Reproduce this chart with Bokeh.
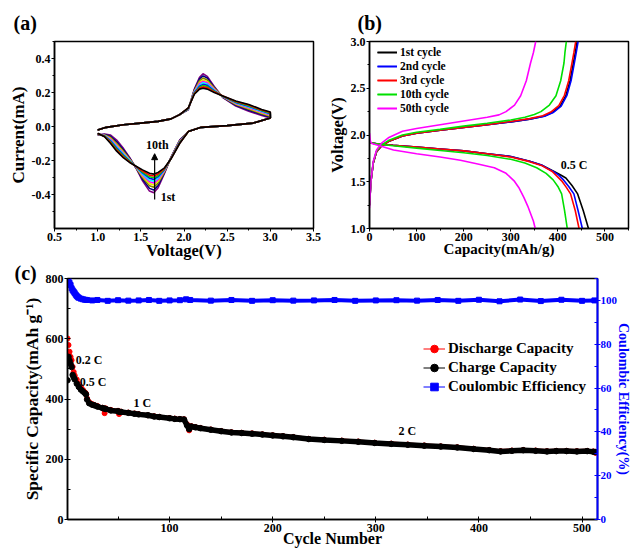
from bokeh.plotting import figure
from bokeh.layouts import column, row
from bokeh.models import (Range1d, LinearAxis, SingleIntervalTicker, PrintfTickFormatter,
                          Label, Arrow, NormalHead, Legend, LegendItem)
from bokeh.embed import file_html
from bokeh.resources import INLINE

FONT = "Liberation Serif"

# ---------------- (a) CV data ----------------
cv_fwd_common_v = [1.0, 1.1, 1.3, 1.5, 1.7, 1.85, 1.95]
cv_fwd_common_i = [-0.02, -0.005, 0.01, 0.02, 0.03, 0.045, 0.07]
cv_fwd_v = [2.05, 2.12, 2.18, 2.22, 2.27, 2.35, 2.45, 2.6, 2.75, 2.9, 3.0]
cv_rev_common_v = [3.0, 2.8, 2.5, 2.2, 2.05]
cv_rev_common_i = [0.05, 0.02, 0.005, -0.005, -0.03]
cv_rev_v = [1.95, 1.85, 1.77, 1.7, 1.65, 1.6, 1.52, 1.45, 1.38, 1.3, 1.22, 1.15, 1.08, 1.0]
cv_colors = ["#800080", "#000080", "#808000", "#E8E800", "#FF00FF",
             "#00FFFF", "#0000FF", "#00E000", "#FF0000", "#000000"]
cv_fwd_i = [
    [0.10, 0.22, 0.29, 0.31, 0.295, 0.235, 0.17, 0.12, 0.09, 0.065, 0.05],
    [0.10, 0.215, 0.28, 0.298, 0.285, 0.23, 0.172, 0.125, 0.096, 0.07, 0.055],
    [0.103, 0.21, 0.27, 0.285, 0.273, 0.226, 0.173, 0.129, 0.102, 0.075, 0.06],
    [0.104, 0.207, 0.26, 0.274, 0.264, 0.222, 0.174, 0.133, 0.107, 0.08, 0.065],
    [0.105, 0.204, 0.253, 0.265, 0.257, 0.218, 0.175, 0.136, 0.111, 0.084, 0.068],
    [0.106, 0.201, 0.245, 0.257, 0.25, 0.214, 0.176, 0.139, 0.115, 0.088, 0.072],
    [0.107, 0.198, 0.237, 0.248, 0.242, 0.21, 0.177, 0.142, 0.119, 0.092, 0.075],
    [0.108, 0.196, 0.231, 0.241, 0.235, 0.207, 0.178, 0.144, 0.122, 0.094, 0.078],
    [0.109, 0.193, 0.226, 0.233, 0.228, 0.204, 0.179, 0.147, 0.126, 0.097, 0.082],
    [0.11, 0.19, 0.22, 0.225, 0.22, 0.20, 0.18, 0.15, 0.13, 0.10, 0.085],
]
cv_rev_i = [
    [-0.08, -0.18, -0.28, -0.36, -0.39, -0.38, -0.32, -0.25, -0.19, -0.13, -0.08, -0.05, -0.045, -0.05],
    [-0.083, -0.182, -0.275, -0.347, -0.374, -0.364, -0.310, -0.248, -0.194, -0.138, -0.090, -0.058, -0.047, -0.049],
    [-0.086, -0.183, -0.270, -0.333, -0.357, -0.349, -0.300, -0.246, -0.198, -0.147, -0.100, -0.065, -0.050, -0.047],
    [-0.088, -0.184, -0.265, -0.322, -0.344, -0.336, -0.293, -0.244, -0.200, -0.153, -0.107, -0.071, -0.051, -0.046],
    [-0.090, -0.185, -0.262, -0.313, -0.333, -0.325, -0.286, -0.242, -0.203, -0.159, -0.114, -0.076, -0.053, -0.045],
    [-0.092, -0.186, -0.258, -0.304, -0.322, -0.315, -0.280, -0.241, -0.205, -0.164, -0.120, -0.081, -0.054, -0.044],
    [-0.094, -0.187, -0.255, -0.295, -0.311, -0.304, -0.273, -0.239, -0.208, -0.170, -0.127, -0.086, -0.056, -0.043],
    [-0.096, -0.188, -0.252, -0.288, -0.302, -0.296, -0.268, -0.238, -0.210, -0.174, -0.132, -0.090, -0.057, -0.042],
    [-0.098, -0.189, -0.249, -0.279, -0.291, -0.286, -0.262, -0.237, -0.213, -0.180, -0.139, -0.095, -0.059, -0.041],
    [-0.10, -0.19, -0.245, -0.27, -0.28, -0.275, -0.255, -0.235, -0.215, -0.185, -0.145, -0.10, -0.06, -0.04],
]

# ---------------- (b) charge/discharge data ----------------
b_names = ["1st cycle", "2nd cycle", "3rd cycle", "10th cycle", "50th cycle"]
b_colors = ["#000000", "#0000FF", "#FF0000", "#00E000", "#FF00FF"]
b_chg_cap = [
    [0, 3, 8, 15, 25, 40, 70, 100, 150, 200, 250, 300, 340, 370, 388, 405, 417, 426, 433, 437, 441],
    [0, 3, 8, 15, 25, 40, 70, 100, 150, 200, 250, 300, 340, 372, 390, 407, 419, 428, 435, 439, 443],
    [0, 3, 8, 15, 25, 40, 70, 100, 150, 200, 250, 300, 340, 368, 385, 402, 414, 423, 430, 434, 438],
    [0, 3, 8, 15, 25, 40, 70, 100, 150, 200, 250, 300, 330, 350, 364, 382, 396, 406, 413, 415, 418],
    [0, 3, 8, 15, 25, 40, 70, 100, 150, 200, 250, 275, 290, 308, 321, 333, 342, 348, 353],
]
b_chg_v = [
    [1.25, 1.5, 1.7, 1.82, 1.88, 1.93, 1.99, 2.02, 2.05, 2.08, 2.11, 2.14, 2.17, 2.2, 2.24, 2.31, 2.42, 2.58, 2.77, 2.88, 3.0],
    [1.25, 1.5, 1.7, 1.82, 1.88, 1.93, 1.99, 2.02, 2.05, 2.08, 2.11, 2.14, 2.17, 2.2, 2.24, 2.31, 2.42, 2.58, 2.77, 2.88, 3.0],
    [1.25, 1.5, 1.7, 1.82, 1.88, 1.93, 1.99, 2.02, 2.05, 2.08, 2.11, 2.145, 2.175, 2.205, 2.245, 2.315, 2.425, 2.58, 2.77, 2.88, 3.0],
    [1.25, 1.5, 1.71, 1.83, 1.89, 1.94, 2.0, 2.03, 2.06, 2.095, 2.125, 2.16, 2.19, 2.22, 2.25, 2.32, 2.42, 2.58, 2.77, 2.88, 3.0],
    [1.22, 1.5, 1.72, 1.84, 1.91, 1.97, 2.04, 2.07, 2.11, 2.15, 2.19, 2.215, 2.25, 2.32, 2.42, 2.58, 2.77, 2.88, 3.0],
]
b_dis_cap = [
    [0, 15, 50, 100, 150, 200, 250, 300, 340, 365, 392, 405, 417, 430, 442, 454, 465],
    [0, 15, 50, 100, 150, 200, 250, 300, 340, 365, 390, 402, 412, 423, 434, 443, 452],
    [0, 15, 50, 100, 150, 200, 250, 300, 340, 365, 388, 398, 408, 418, 427, 437, 445],
    [0, 15, 50, 100, 150, 200, 250, 300, 330, 355, 375, 390, 400, 408, 414, 420],
    [0, 2, 5, 25, 51, 100, 150, 193, 230, 265, 290, 307, 318, 328, 336, 342, 348, 352],
]
b_dis_v = [
    [1.92, 1.905, 1.89, 1.87, 1.85, 1.83, 1.80, 1.77, 1.72, 1.68, 1.61, 1.575, 1.54, 1.46, 1.37, 1.19, 1.0],
    [1.92, 1.905, 1.89, 1.87, 1.85, 1.83, 1.80, 1.77, 1.72, 1.68, 1.61, 1.57, 1.52, 1.45, 1.37, 1.19, 1.0],
    [1.92, 1.905, 1.89, 1.87, 1.85, 1.83, 1.80, 1.765, 1.715, 1.675, 1.61, 1.56, 1.51, 1.44, 1.37, 1.19, 1.0],
    [1.92, 1.905, 1.885, 1.86, 1.835, 1.81, 1.78, 1.74, 1.70, 1.65, 1.59, 1.52, 1.45, 1.37, 1.2, 1.0],
    [2.02, 1.93, 1.91, 1.88, 1.84, 1.80, 1.765, 1.73, 1.69, 1.65, 1.59, 1.51, 1.43, 1.33, 1.24, 1.16, 1.08, 1.0],
]

# ---------------- (c) cycling data ----------------
cyc = [1, 2, 3, 4, 5, 6, 7, 8,
       10, 12, 14, 16, 18, 19, 20, 22, 25, 27,
       30, 35, 37, 38, 43, 50, 51, 53, 60, 66,
       70, 79, 85, 90, 100, 105, 110, 114, 117, 119,
       121, 125, 130, 140, 150, 160, 170, 180, 190, 200,
       210, 220, 235, 250, 267, 283, 299, 315, 331, 347,
       363, 379, 395, 410, 421, 432, 443, 455, 466, 475,
       485, 495, 505, 511, 513]
discharge = [601, 579, 557, 540, 529, 507, 490, 478,
             465, 450, 440, 430, 422, 418, 402, 390, 383, 380,
             377, 371, 353, 369, 364, 361, 350, 358, 355, 352,
             350, 346, 343, 341, 337, 335, 334, 333, 316, 296,
             310, 307, 304, 299, 294, 290, 288, 286, 283, 280,
             277, 274, 268, 265, 262, 259, 255, 252, 249, 246,
             243, 240, 235, 231, 227, 229, 231, 229, 227, 228,
             228, 227, 228, 226, 221]
charge = [462, 540, 527, 516, 506, 480, 472, 465,
          451, 440, 431, 425, 419, 415, 398, 386, 381, 379,
          375, 370, 368, 367, 362, 359, 358, 357, 354, 351,
          349, 346, 342, 340, 336, 334, 333, 332, 312, 300,
          309, 306, 303, 298, 293, 289, 287, 285, 282, 279,
          276, 273, 267, 264, 261, 258, 254, 251, 248, 245,
          242, 239, 234, 230, 226, 228, 230, 228, 226, 227,
          227, 226, 227, 225, 224]
dense_from = 15   # index in cyc from which the markers merge into a band (cycle 20)
ce_cycle = [2, 3, 4, 5, 6, 7, 8, 9, 10, 11,
            12, 14, 16, 18, 20, 25, 30, 40, 50, 60,
            70, 80, 90, 100, 110, 116, 120, 140, 160, 180,
            200, 220, 240, 260, 280, 300, 320, 340, 360, 380,
            400, 420, 440, 460, 480, 500, 512]
ce_value = [109, 108, 107, 105.5, 104.6, 104, 103.3, 102.6, 102, 101.5,
            101.2, 100.8, 100.5, 100.3, 100.2, 100, 100.2, 99.8, 100.1, 99.9,
            100, 100.2, 99.8, 100, 100.1, 100.5, 100.2, 99.9, 100.2, 99.8,
            100.1, 99.9, 100, 100.2, 99.8, 100, 100.1, 99.9, 100.2, 99.8,
            100.3, 99.6, 100.4, 99.7, 100.3, 99.8, 100]
rate_labels = ["0.2 C", "0.5 C", "1 C", "2 C"]
rate_x = [9, 13, 65, 322]
rate_y = [531, 455, 387, 293]


def style_axis(ax, lab_size, color="black", tick_size="12px"):
    ax.axis_label_text_font = FONT
    ax.axis_label_text_font_style = "bold"
    ax.axis_label_text_font_size = lab_size
    ax.axis_label_text_color = color
    ax.major_label_text_font = FONT
    ax.major_label_text_font_style = "bold"
    ax.major_label_text_font_size = tick_size
    ax.major_label_text_color = color
    ax.axis_line_width = 1.5
    ax.axis_line_color = color
    ax.major_tick_line_color = color
    ax.minor_tick_line_color = color
    ax.major_tick_out = 3
    ax.major_tick_in = 0
    ax.minor_tick_out = 2
    ax.minor_tick_in = 0
    ax.major_label_standoff = 1
    ax.axis_label_standoff = 1


def style(p, xlabel, ylabel, xsize, ysize, xstand=-3):
    p.outline_line_color = "black"
    p.outline_line_width = 1.5
    p.xgrid.visible = False
    p.ygrid.visible = False
    p.xaxis.axis_label = xlabel
    p.yaxis.axis_label = ylabel
    for ax in p.xaxis:
        style_axis(ax, xsize)
        ax.axis_label_standoff = xstand
    for ax in p.yaxis:
        style_axis(ax, ysize)


def panel_title(p, t, offset, standoff, valign="bottom"):
    p.title.text = t
    p.title.text_font = FONT
    p.title.text_font_style = "bold"
    p.title.text_font_size = "20px"
    p.title.text_color = "black"
    p.title.align = "left"
    p.title.offset = offset
    p.title.standoff = standoff
    p.title.vertical_align = valign


def text(p, x, y, t, size="12px", align="left", baseline="middle"):
    p.add_layout(Label(x=x, y=y, text=t, text_font=FONT, text_font_style="bold",
                       text_font_size=size, text_align=align, text_baseline=baseline,
                       text_color="black"))


# ---------------- panel (a) ----------------
pa = figure(width=322, height=262, x_range=Range1d(0.5, 3.5), y_range=Range1d(-0.6, 0.5),
            output_backend="svg", toolbar_location=None,
            min_border_left=54, min_border_right=9, min_border_top=41, min_border_bottom=31)
for k in range(10):
    xs = cv_fwd_common_v + cv_fwd_v + cv_rev_common_v + cv_rev_v
    ys = cv_fwd_common_i + cv_fwd_i[k] + cv_rev_common_i + cv_rev_i[k]
    pa.line(xs, ys, line_color=cv_colors[k], line_width=1.6)
style(pa, "Voltage(V)", "Current(mA)", "16.5px", "17px")
pa.xaxis.ticker = SingleIntervalTicker(interval=0.5, num_minor_ticks=2)
pa.yaxis.ticker = SingleIntervalTicker(interval=0.2, num_minor_ticks=2)
pa.xaxis.formatter = PrintfTickFormatter(format="%.1f")
pa.yaxis.formatter = PrintfTickFormatter(format="%.1f")
pa.add_layout(Arrow(end=NormalHead(size=6, fill_color="black", line_color="black"),
                    x_start=1.66, y_start=-0.43, x_end=1.66, y_end=-0.16,
                    line_color="black", line_width=1.2))
text(pa, 1.69, -0.11, "10th", align="center")
text(pa, 1.73, -0.417, "1st")
panel_title(pa, "(a)", -41, 16)

# ---------------- panel (b) ----------------
pb = figure(width=312, height=262, x_range=Range1d(0, 550), y_range=Range1d(1.0, 3.0),
            output_backend="svg", toolbar_location=None,
            min_border_left=47, min_border_right=6, min_border_top=41, min_border_bottom=31)
b_items = []
for k in range(5):
    r1 = pb.line(b_chg_cap[k], b_chg_v[k], line_color=b_colors[k], line_width=1.6)
    r2 = pb.line(b_dis_cap[k], b_dis_v[k], line_color=b_colors[k], line_width=1.6)
    b_items.append(LegendItem(label=b_names[k], renderers=[r1, r2]))
style(pb, "Capacity(mAh/g)", "Voltage(V)", "15px", "16.5px")
pb.xaxis.ticker = SingleIntervalTicker(interval=100, num_minor_ticks=2)
pb.yaxis.ticker = SingleIntervalTicker(interval=0.5, num_minor_ticks=2)
pb.yaxis.formatter = PrintfTickFormatter(format="%.1f")
leg_b = Legend(items=b_items, location=(6, 111), padding=2, spacing=0,
               label_height=14, glyph_height=14, glyph_width=20, label_standoff=3,
               label_text_font=FONT, label_text_font_style="bold", label_text_font_size="11.5px",
               label_text_line_height=1.0,
               label_text_color="black", border_line_alpha=0, background_fill_alpha=0)
pb.add_layout(leg_b)
text(pb, 406, 1.68, "0.5 C")
panel_title(pb, "(b)", -12, 16)

# ---------------- panel (c) ----------------
pc = figure(width=634, height=288, x_range=Range1d(1, 515), y_range=Range1d(0, 800),
            output_backend="svg", toolbar_location=None,
            min_border_left=67, min_border_right=34, min_border_top=16, min_border_bottom=31)
pc.extra_y_ranges = {"ce": Range1d(0, 110)}
blue = "#0000FF"
pc.line(ce_cycle, ce_value, y_range_name="ce", line_color=blue, line_width=4)
s_ce = pc.scatter(ce_cycle, ce_value, y_range_name="ce", marker="square", size=5,
                  fill_color=blue, line_color=blue)
pc.line(cyc[dense_from:], discharge[dense_from:], line_color="#FF0000", line_width=4)
s_dis = pc.scatter(cyc, discharge, marker="circle", size=5, fill_color="#FF0000", line_color="#FF0000")
pc.line(cyc[dense_from:], charge[dense_from:], line_color="black", line_width=5.5)
s_chg = pc.scatter(cyc, charge, marker="circle", size=5.5, fill_color="black", line_color="black")
style(pc, "Cycle Number", "Specific Capacity(mAh g\u207b\u00b9)", "16px", "17.5px", xstand=-5)
pc.xaxis.ticker = SingleIntervalTicker(interval=100, num_minor_ticks=2)
pc.yaxis.ticker = SingleIntervalTicker(interval=200, num_minor_ticks=2)
for ax in pc.axis:
    ax.minor_tick_out = 0
    ax.minor_tick_in = 3

rax = LinearAxis(y_range_name="ce", ticker=SingleIntervalTicker(interval=20, num_minor_ticks=2),
                 axis_label="Coulombic Efficiency(%)")
style_axis(rax, "14px", blue, tick_size="11px")
rax.axis_line_width = 2
rax.minor_tick_out = 0
rax.minor_tick_in = 3
rax.major_label_standoff = 0
rax.axis_label_standoff = -4
pc.add_layout(rax, "right")

# thin legend lines (single point, nothing drawn in the frame)
l1 = pc.line(cyc[:1], discharge[:1], line_color="#FF0000", line_width=1)
l2 = pc.line(cyc[:1], charge[:1], line_color="black", line_width=1)
l3 = pc.line(ce_cycle[:1], ce_value[:1], y_range_name="ce", line_color=blue, line_width=1)
leg_c = Legend(items=[LegendItem(label="Discharge Capacity", renderers=[l1, s_dis]),
                      LegendItem(label="Charge Capacity", renderers=[l2, s_chg]),
                      LegendItem(label="Coulombic Efficiency", renderers=[l3, s_ce])],
               location=(354, 121), padding=2, spacing=0,
               label_height=19, glyph_height=19, glyph_width=22, label_standoff=3,
               label_text_font=FONT, label_text_font_style="bold", label_text_font_size="15px",
               label_text_color="black", border_line_alpha=0, background_fill_alpha=0)
pc.add_layout(leg_c)
for t, x, y in zip(rate_labels, rate_x, rate_y):
    text(pc, x, y, t)
panel_title(pc, "(c)", -53, -10, valign="bottom")

layout = column(row(pa, pb), pc)
open("out.html", "w").write(file_html(layout, INLINE))
